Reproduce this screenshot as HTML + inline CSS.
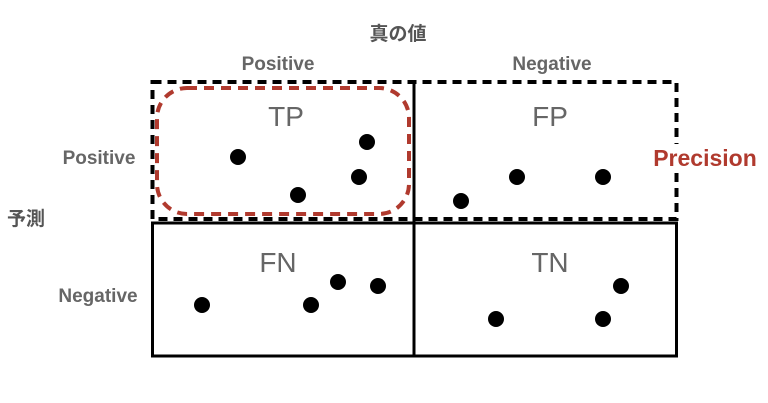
<!DOCTYPE html>
<html><head><meta charset="utf-8"><style>html,body{margin:0;padding:0;background:#fff}svg{display:block}</style></head>
<body>
<svg width="768" height="403" viewBox="0 0 768 403" xmlns="http://www.w3.org/2000/svg" font-family="'Liberation Sans','Noto Sans CJK JP',sans-serif" font-weight="bold">
<rect width="768" height="403" fill="#fff"/>
<rect x="152.5" y="223" width="524" height="133" fill="none" stroke="#000" stroke-width="3"/>
<line x1="414" y1="82" x2="414" y2="356" stroke="#000" stroke-width="3"/>
<rect x="152.5" y="82" width="524" height="137" fill="none" stroke="#000" stroke-width="4" stroke-dasharray="9 6"/>
<rect x="157" y="88" width="252" height="126" rx="30" fill="none" stroke="#b03a2e" stroke-width="4" stroke-dasharray="10 7"/>
<text x="398" y="40" font-size="19" fill="#555" text-anchor="middle">真の値</text>
<text x="278" y="70" font-size="19" fill="#666" text-anchor="middle">Positive</text>
<text x="552" y="70" font-size="19" fill="#666" text-anchor="middle">Negative</text>
<text x="99" y="164" font-size="19" fill="#666" text-anchor="middle">Positive</text>
<text x="98" y="302" font-size="19" fill="#666" text-anchor="middle">Negative</text>
<text x="26" y="225" font-size="19" fill="#555" text-anchor="middle">予測</text>
<text x="286" y="126" font-size="28" fill="#666" text-anchor="middle" font-weight="normal">TP</text>
<text x="550" y="126" font-size="28" fill="#666" text-anchor="middle" font-weight="normal">FP</text>
<text x="278" y="272" font-size="28" fill="#666" text-anchor="middle" font-weight="normal">FN</text>
<text x="550" y="272" font-size="28" fill="#666" text-anchor="middle" font-weight="normal">TN</text>
<rect x="649" y="144" width="114" height="26" fill="#fff"/>
<text x="705" y="166" font-size="23" fill="#b03a2e" text-anchor="middle">Precision</text>
<g fill="#000">
<circle cx="238" cy="157" r="8"/><circle cx="367" cy="142" r="8"/><circle cx="359" cy="177" r="8"/><circle cx="298" cy="195" r="8"/>
<circle cx="517" cy="177" r="8"/><circle cx="603" cy="177" r="8"/><circle cx="461" cy="201" r="8"/>
<circle cx="202" cy="305" r="8"/><circle cx="311" cy="305" r="8"/><circle cx="338" cy="282" r="8"/><circle cx="378" cy="286" r="8"/>
<circle cx="621" cy="286" r="8"/><circle cx="496" cy="319" r="8"/><circle cx="603" cy="319" r="8"/>
</g>
</svg>
</body></html>
